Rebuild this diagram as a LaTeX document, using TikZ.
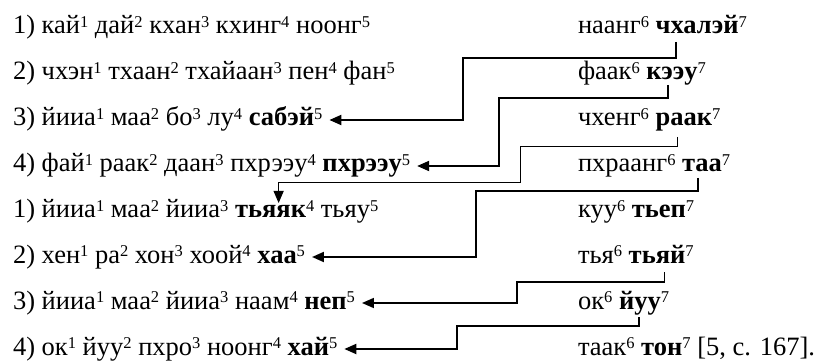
\documentclass[tikz,border=0pt]{standalone}
\usepackage{fontspec}
\setmainfont{Liberation Serif}
\usetikzlibrary{arrows.meta,calc}
\newcommand\su[1]{\raisebox{6.8pt}{\fontsize{16.5}{16.5}\selectfont #1}}
\newcommand\gapsp{~\null}
\begin{document}
\begin{tikzpicture}[x=1pt,y=-1pt,
  txt/.style={anchor=base west,inner sep=0pt,outer sep=0pt,font=\fontsize{26.5}{30}\selectfont},
  conn/.style={line width=2pt,line join=miter,-{Triangle[length=12pt,width=10pt]}},
  thinconn/.style={line width=1pt,line join=miter,-{Triangle[length=12pt,width=10pt]}}]
\path[fill=white] (0,0) rectangle (818,363);
\useasboundingbox (0,0) rectangle (818,363);
% left column
\node[txt] (l1) at (13,34) {1) кай\su{1} дай\su{2} кхан\su{3} кхинг\su{4} ноонг\su{5}};
\node[txt] (l2) at (13,80) {2) чхэн\su{1} тхаан\su{2} тхайаан\su{3} пен\su{4} фан\su{5}};
\node[txt] (l3) at (13,126) {3) йииа\su{1} маа\su{2} бо\su{3} лу\su{4}\gapsp};
\node[txt] (l3b) at (l3.base east) {\textbf{сабэй}\su{5}};
\node[txt] (l4) at (13,172) {4) фай\su{1} раак\su{2} даан\su{3} пхрээу\su{4}\gapsp};
\node[txt] (l4b) at (l4.base east) {\textbf{пхрээу}\su{5}};
\node[txt] (l5) at (13,218) {1) йииа\su{1} маа\su{2} йииа\su{3}\gapsp};
\node[txt] (l5b) at (l5.base east) {\textbf{тьяяк}\su{4}};
\node[txt] (l5c) at (l5b.base east) {\null~тьяу\su{5}};
\node[txt] (l6) at (13,263) {2) хен\su{1} ра\su{2} хон\su{3} хоой\su{4}\gapsp};
\node[txt] (l6b) at (l6.base east) {\textbf{хаа}\su{5}};
\node[txt] (l7) at (13,309) {3) йииа\su{1} маа\su{2} йииа\su{3} наам\su{4}\gapsp};
\node[txt] (l7b) at (l7.base east) {\textbf{неп}\su{5}};
\node[txt] (l8) at (13,355) {4) ок\su{1} йуу\su{2} пхро\su{3} ноонг\su{4}\gapsp};
\node[txt] (l8b) at (l8.base east) {\textbf{хай}\su{5}};
% right column
\node[txt] (r1) at (578,34) {наанг\su{6}\gapsp};
\node[txt] (r1b) at (r1.base east) {\textbf{чхалэй}\su{7}};
\node[txt] (r2) at (578,80) {фаак\su{6}\gapsp};
\node[txt] (r2b) at (r2.base east) {\textbf{кээу}\su{7}};
\node[txt] (r3) at (578,126) {чхенг\su{6}\gapsp};
\node[txt] (r3b) at (r3.base east) {\textbf{раак}\su{7}};
\node[txt] (r4) at (578,172) {пхраанг\su{6}\gapsp};
\node[txt] (r4b) at (r4.base east) {\textbf{таа}\su{7}};
\node[txt] (r5) at (578,218) {куу\su{6} \textbf{тьеп}\su{7}};
\node[txt] (r6) at (578,263) {тья\su{6}\gapsp};
\node[txt] (r6b) at (r6.base east) {\textbf{тьяй}\su{7}};
\node[txt] (r7) at (578,309) {ок\su{6}\gapsp};
\node[txt] (r7b) at (r7.base east) {\textbf{йуу}\su{7}};
\node[txt] (r8) at (578,355) {таак\su{6} \textbf{тон}\su{7} [5, с. 167].};
% connectors
\draw[conn] ($(r1b.base west)!0.22!(r1b.base east)+(0,8)$) |- (463,58) |- ($(l3b.base east)+(7,-6)$);
\draw[conn] ($(r2b.base west)!0.36!(r2b.base east)+(0,5)$) |- (499,98) |- ($(l4b.base east)+(7,-6)$);
\draw[thinconn] ($(r3b.base west)!0.34!(r3b.base east)+(0,11)$) |- (520,147)
   |- ($(l5b.base west)!0.55!(l5b.base east)+(0,-35)$) -- ($(l5b.base west)!0.55!(l5b.base east)+(0,-15)$);
\draw[conn] ($(r4b.base west)!0.33!(r4b.base east)+(0,6)$) |- (476,191) |- ($(l6b.base east)+(7,-6)$);
\draw[conn,line width=1.6pt] ($(r6b.base west)!0.55!(r6b.base east)+(0,9)$) |- (517,282) |- ($(l7b.base east)+(7,-6)$);
\draw[conn] ($(r7b.base west)!0.4!(r7b.base east)+(0,8)$) |- (457,326) |- ($(l8b.base east)+(7,-6)$);
\end{tikzpicture}
\end{document}
